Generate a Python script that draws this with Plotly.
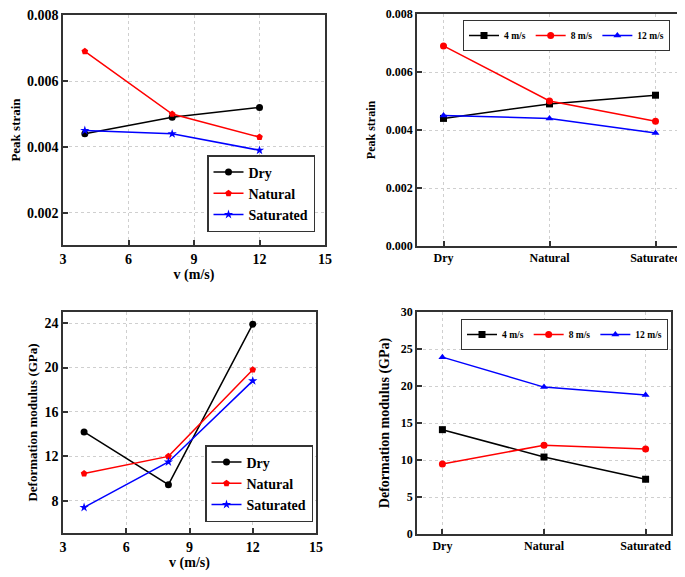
import plotly.graph_objects as go

# ---- data ----
speeds = [4, 8, 12]
states = ["Dry", "Natural", "Saturated"]
speed_labels = ["4 m/s", "8 m/s", "12 m/s"]

# Peak strain vs speed (per state)
strain_dry = [0.0044, 0.0049, 0.0052]
strain_natural = [0.0069, 0.0050, 0.0043]
strain_saturated = [0.0045, 0.0044, 0.0039]

# Peak strain vs state (per speed)
strain_4 = [0.0044, 0.0049, 0.0052]
strain_8 = [0.0069, 0.0050, 0.0043]
strain_12 = [0.0045, 0.0044, 0.0039]

# Deformation modulus vs speed (per state)
mod_dry = [14.2, 9.45, 23.9]
mod_natural = [10.45, 12.0, 19.8]
mod_saturated = [7.4, 11.5, 18.8]

# Deformation modulus vs state (per speed)
mod_4 = [14.1, 10.4, 7.4]
mod_8 = [9.45, 12.0, 11.5]
mod_12 = [23.9, 19.85, 18.8]

OFF = 8  # page body margin
W, H = 685 - OFF, 577 - OFF
FONT = "Times New Roman, Liberation Serif, DejaVu Serif, serif"
BLACK, RED, BLUE = "#000000", "#ff0000", "#0000ff"


def fx(a):
    return (a - OFF) / W


def fy(a):
    return 1 - (a - OFF) / H


def px_x(a, b):
    return [fx(a), fx(b)]


def px_y(top, bottom):
    return [fy(bottom), fy(top)]


fig = go.Figure()

state_colors = [BLACK, RED, BLUE]
state_symbols = ["circle", "pentagon", "star"]
speed_symbols = ["square", "circle", "triangle-up"]

# TL
for name, vals, c, s in zip(states, [strain_dry, strain_natural, strain_saturated], state_colors, state_symbols):
    fig.add_trace(go.Scatter(x=speeds, y=vals, name=name, mode="lines+markers",
                             line=dict(color=c, width=1.5), marker=dict(symbol=s, size=7, color=c),
                             xaxis="x", yaxis="y", legend="legend"))
# TR
for name, vals, c, s in zip(speed_labels, [strain_4, strain_8, strain_12], state_colors, speed_symbols):
    fig.add_trace(go.Scatter(x=states, y=vals, name=name, mode="lines+markers",
                             line=dict(color=c, width=1.5), marker=dict(symbol=s, size=7, color=c),
                             xaxis="x2", yaxis="y2", legend="legend2"))
# BL
for name, vals, c, s in zip(states, [mod_dry, mod_natural, mod_saturated], state_colors, state_symbols):
    fig.add_trace(go.Scatter(x=speeds, y=vals, name=name, mode="lines+markers",
                             line=dict(color=c, width=1.5), marker=dict(symbol=s, size=7, color=c),
                             xaxis="x3", yaxis="y3", legend="legend3"))
# BR
for name, vals, c, s in zip(speed_labels, [mod_4, mod_8, mod_12], state_colors, speed_symbols):
    fig.add_trace(go.Scatter(x=states, y=vals, name=name, mode="lines+markers",
                             line=dict(color=c, width=1.5), marker=dict(symbol=s, size=7, color=c),
                             xaxis="x4", yaxis="y4", legend="legend4"))

common = dict(showline=True, mirror=True, linecolor="#333333", linewidth=1.5,
              ticks="inside", ticklen=5, tickwidth=1.5, tickcolor="#333333",
              showgrid=True, gridcolor="#cfcfcf", griddash="dot", gridwidth=1,
              zeroline=False, ticklabeloverflow="allow")


def tf(size):
    return dict(family=FONT, size=size, color="black", weight="bold")


fig.update_layout(
    width=W, height=H, margin=dict(l=0, r=0, t=0, b=0, autoexpand=False),
    paper_bgcolor="white", plot_bgcolor="white",
    font=dict(family=FONT, color="black"),
    xaxis=dict(domain=px_x(63, 325), range=[3, 15], dtick=3, tick0=0,
               tickfont=tf(14), title=dict(text="v (m/s)", font=tf(14), standoff=0),
               anchor="y", **common),
    yaxis=dict(domain=px_y(15, 245), range=[0.00103, 0.008], dtick=0.002, tick0=0,
               tickformat=".3f", tickfont=tf(14),
               title=dict(text="Peak strain", font=tf(13), standoff=6),
               anchor="x", **common),
    xaxis2=dict(domain=px_x(417, 682), range=[-0.25, 2.25], type="category",
                tickfont=tf(12), anchor="y2", **common),
    yaxis2=dict(domain=px_y(14, 246), range=[0, 0.008], dtick=0.002, tick0=0,
                tickformat=".3f", tickfont=tf(12),
                title=dict(text="Peak strain", font=tf(12), standoff=8),
                anchor="x2", **common),
    xaxis3=dict(domain=px_x(63, 316), range=[3, 15], dtick=3, tick0=0,
                tickfont=tf(14), title=dict(text="v (m/s)", font=tf(14), standoff=0),
                anchor="y3", **common),
    yaxis3=dict(domain=px_y(312, 533), range=[5.1, 25], dtick=4, tick0=0,
                tickfont=tf(14),
                title=dict(text="Deformation modulus (GPa)", font=tf(13), standoff=4),
                anchor="x3", **common),
    xaxis4=dict(domain=px_x(417, 671), range=[-0.25, 2.25], type="category",
                tickfont=tf(12), anchor="y4", **common),
    yaxis4=dict(domain=px_y(312, 534), range=[0, 30], dtick=5, tick0=0,
                tickfont=tf(12),
                title=dict(text="Deformation modulus (GPa)", font=tf(14), standoff=8),
                anchor="x4", **common),
    legend=dict(x=fx(315), y=fy(232), xanchor="right", yanchor="bottom",
                bgcolor="white", bordercolor="#333333", borderwidth=1.5,
                font=tf(14), tracegroupgap=0, itemwidth=30),
    legend2=dict(x=fx(463), y=fy(20), xanchor="left", yanchor="top",
                 orientation="h", bgcolor="white", bordercolor="#333333", borderwidth=1,
                 font=tf(9.5), itemwidth=30),
    legend3=dict(x=fx(313), y=fy(522), xanchor="right", yanchor="bottom",
                 bgcolor="white", bordercolor="#333333", borderwidth=1.5,
                 font=tf(14), tracegroupgap=0, itemwidth=30),
    legend4=dict(x=fx(461), y=fy(319), xanchor="left", yanchor="top",
                 orientation="h", bgcolor="white", bordercolor="#333333", borderwidth=1,
                 font=tf(9.5), itemwidth=30),
)

fig.write_html("out.html")
